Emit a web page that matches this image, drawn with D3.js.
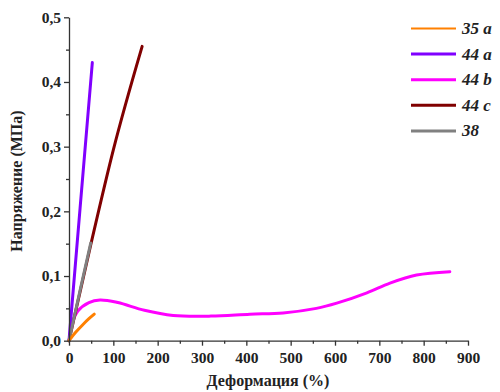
<!DOCTYPE html>
<meta charset="utf-8">
<style>
body { margin: 0; background: #fff; }
svg text { font-family: "Liberation Serif", "Times New Roman", "DejaVu Serif", serif !important; font-weight: bold; fill: #222; }
.axis text { font-size: 15.5px; }
.axis path, .axis line { stroke: #333; stroke-width: 1.3; }
.curve { fill: none; stroke-width: 3; stroke-linecap: round; }
</style>
<body>
<script src="https://d3js.org/d3.v7.min.js"></script>
<script>
// data
var s35a_x = [0, 15, 30, 45, 57];
var s35a_y = [0, 0.013, 0.024, 0.034, 0.041];
var s44a_x = [0, 25, 52.6];
var s44a_y = [0, 0.205, 0.43];
var s44c_x = [0, 49, 100, 165];
var s44c_y = [0, 0.148, 0.295, 0.455];
var s38_x = [0, 25, 49];
var s38_y = [0, 0.078, 0.151];
var s44b_x = [4, 20, 45, 70, 110, 170, 235, 320, 408, 483, 558, 604, 672, 724, 784, 859];
var s44b_y = [0.022, 0.046, 0.059, 0.063, 0.059, 0.047, 0.039, 0.038, 0.041, 0.043, 0.050, 0.058, 0.074, 0.089, 0.1015, 0.1067];

var seriesNames = ["35 a", "44 a", "44 b", "44 c", "38"];
var seriesColors = ["#ff8000", "#8000ff", "#ff00ff", "#800000", "#808080"];
var xTicks = [0, 100, 200, 300, 400, 500, 600, 700, 800, 900];
var yTicks = [0, 0.1, 0.2, 0.3, 0.4, 0.5];

var W = 500, H = 392;
var x = d3.scaleLinear().domain([0, 900]).range([69, 468]);
var y = d3.scaleLinear().domain([0, 0.5]).range([340.7, 17.3]);

var svg = d3.select("body").append("svg").attr("width", W).attr("height", H);

function zip(xs, ys) { return xs.map(function(v, i) { return [v, ys[i]]; }); }

var line = d3.line()
    .x(function(d) { return x(d[0]); })
    .y(function(d) { return y(d[1]); });

var series = [
  zip(s35a_x, s35a_y),
  zip(s44a_x, s44a_y),
  zip(s44b_x, s44b_y),
  zip(s44c_x, s44c_y),
  zip(s38_x, s38_y)
];
// draw order: magenta first, then the steep lines
var order = [2, 3, 1, 4, 0];
order.forEach(function(i) {
  svg.append("path").attr("class", "curve")
    .attr("stroke", seriesColors[i])
    .attr("d", line.curve(i == 2 ? d3.curveCatmullRom : d3.curveMonotoneX)(series[i]));
});

// minor ticks
svg.append("g").attr("class", "axis")
  .attr("transform", "translate(0," + y(0) + ")")
  .call(d3.axisBottom(x).tickValues(d3.range(50, 900, 100)).tickSize(3).tickFormat(""))
  .select(".domain").remove();
svg.append("g").attr("class", "axis")
  .attr("transform", "translate(" + x(0) + ",0)")
  .call(d3.axisLeft(y).tickValues([0.05, 0.15, 0.25, 0.35, 0.45]).tickSize(3).tickFormat(""))
  .select(".domain").remove();

var fmt = function(d) { return d3.format(".1f")(d).replace(".", ","); };

var xa = svg.append("g").attr("class", "axis")
  .attr("transform", "translate(0," + y(0) + ")")
  .call(d3.axisBottom(x).tickValues(xTicks).tickSize(5).tickSizeOuter(0).tickPadding(6));
xa.attr("font-family", null).attr("font-size", null);

var ya = svg.append("g").attr("class", "axis")
  .attr("transform", "translate(" + x(0) + ",0)")
  .call(d3.axisLeft(y).tickValues(yTicks).tickFormat(fmt).tickSize(5).tickSizeOuter(0).tickPadding(3));
ya.attr("font-family", null).attr("font-size", null);

svg.append("text").attr("x", 268).attr("y", 386).attr("text-anchor", "middle")
  .style("font-size", "16px").text("Деформация (%)");
svg.append("text").attr("transform", "translate(22,181) rotate(-90)").attr("text-anchor", "middle")
  .style("font-size", "16px").text("Напряжение (МПа)");

// legend
var lg = svg.append("g");
seriesNames.forEach(function(n, i) {
  var yy = 28.5 + i * 25.6;
  lg.append("line").attr("x1", 411).attr("x2", 456).attr("y1", yy).attr("y2", yy)
    .attr("stroke", seriesColors[i]).attr("stroke-width", i == 0 ? 2 : 3);
  lg.append("text").attr("x", 462).attr("y", yy + 5.5)
    .style("font-size", "17px").style("font-style", "italic").text(n);
});
</script>
</body>
